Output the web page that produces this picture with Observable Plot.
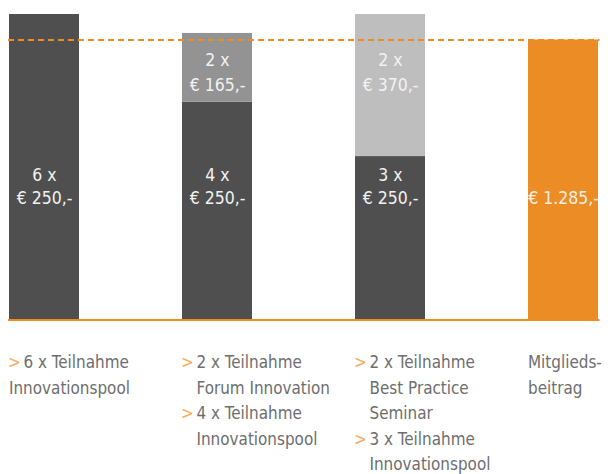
<!DOCTYPE html>
<html><head><meta charset="utf-8">
<script src="https://cdn.jsdelivr.net/npm/d3@7"></script>
<script src="https://cdn.jsdelivr.net/npm/@observablehq/plot@0.6"></script>
<style>
body{margin:0;background:#fff;}
#chart svg{display:block;}
</style></head><body><div id="chart"></div>
<script>
// categories (one column each)
const categories = ["Innovationspool", "Forum Innovation", "Best Practice Seminar", "Mitgliedsbeitrag"];

// stacked segments (bottom first within each category)
const segCategory = ["Innovationspool", "Forum Innovation", "Forum Innovation", "Best Practice Seminar", "Best Practice Seminar", "Mitgliedsbeitrag"];
const segType     = ["pool", "pool", "forum", "pool", "seminar", "beitrag"];
const segValue    = [1500, 1000, 315, 750, 740, 1285];

// labels inside the bars
const lowerLabelCat  = ["Innovationspool", "Forum Innovation", "Best Practice Seminar"];
const lowerLabelText = ["6 x\n€ 250,-", "4 x\n€ 250,-", "3 x\n€ 250,-"];
const upperLabelCat  = ["Forum Innovation", "Best Practice Seminar"];
const upperLabelText = ["2 x\n€ 165,-", "2 x\n€ 370,-"];
const feeLabelCat  = ["Mitgliedsbeitrag"];
const feeLabelText = ["€ 1.285,-"];

// reference level (dashed line)
const referenceValue = [1285];

// category labels under the axis ("> " = bullet, "  " = indented line)
const bottomLabels = [
  ["> 6 x Teilnahme", "Innovationspool"],
  ["> 2 x Teilnahme", "  Forum Innovation", "> 4 x Teilnahme", "  Innovationspool"],
  ["> 2 x Teilnahme", "  Best Practice", "  Seminar", "> 3 x Teilnahme", "  Innovationspool"],
  ["Mitglieds-", "beitrag"]
];

const segments = segCategory.map((c, i) => ({cat: c, type: segType[i], value: segValue[i]}));
const lowerLabels = lowerLabelCat.map((c, i) => ({cat: c, text: lowerLabelText[i]}));
const upperLabels = upperLabelCat.map((c, i) => ({cat: c, text: upperLabelText[i]}));
const feeLabels = feeLabelCat.map((c, i) => ({cat: c, text: feeLabelText[i]}));

const ORANGE = "#ec8c24";
const FONT = "'Liberation Sans Narrow', 'DejaVu Sans Condensed', 'Roboto', sans-serif";

const LOWER_AT = 619, UPPER_AT = 1145, FEE_AT = 557;

const chart = Plot.plot({
  width: 611,
  height: 474,
  marginTop: 14,
  marginBottom: 154.5,
  marginLeft: 8,
  marginRight: 11.5,
  style: {fontFamily: FONT, fontSize: "18px", background: "#fff"},
  x: {type: "band", domain: categories, paddingInner: 0.598, paddingOuter: 0, axis: null},
  y: {domain: [0, 1402], axis: null},
  color: {domain: ["pool", "forum", "seminar", "beitrag"], range: ["#4f4f4f", "#939393", "#bfbebe", ORANGE]},
  marks: [
    Plot.barY(segments, Plot.stackY({x: "cat", y: "value", fill: "type", clip: true, order: null})),
    Plot.ruleY(referenceValue, {stroke: ORANGE, strokeWidth: 2, strokeDasharray: "6,4"}),
    Plot.ruleY([0], {stroke: ORANGE, strokeWidth: 2.2}),
    Plot.text(lowerLabels, {x: "cat", y: () => LOWER_AT, text: "text", fill: "#f2f2f2", fontSize: 17.5, lineHeight: 1.32}),
    Plot.text(upperLabels, {x: "cat", y: () => UPPER_AT, text: "text", fill: "#f2f2f2", fontSize: 17.5, lineHeight: 1.4}),
    Plot.text(feeLabels, {x: "cat", y: () => FEE_AT, text: "text", fill: "#f7f0e6", fontSize: 17.5})
  ]
});

document.getElementById("chart").appendChild(chart);

// category labels below the baseline, positioned with the plot's own scales
const xs = chart.scale("x");
const ys = chart.scale("y");
const svg = d3.select(chart);
const baseY = ys.apply(0) + 48.5;
const lineStep = 25.6;
const SX = 0.94;
const g = svg.append("g").attr("font-family", FONT).attr("font-size", 18).attr("text-anchor", "start");
function put(x, y, fill, txt) {
  g.append("text").attr("transform", `translate(${x},${y}) scale(${SX},1)`).attr("fill", fill).text(txt);
}
bottomLabels.forEach((lines, ci) => {
  const x0 = xs.apply(categories[ci]);
  lines.forEach((line, li) => {
    const y = baseY + li * lineStep;
    if (line.startsWith("> ")) {
      put(x0 - 1, y, "#f4ad62", ">");
      put(x0 + 14.5, y, "#6e6e6e", line.slice(2));
    } else if (line.startsWith("  ")) {
      put(x0 + 14.5, y, "#6e6e6e", line.slice(2));
    } else {
      put(x0, y, "#6e6e6e", line);
    }
  });
});
</script>
</body></html>
